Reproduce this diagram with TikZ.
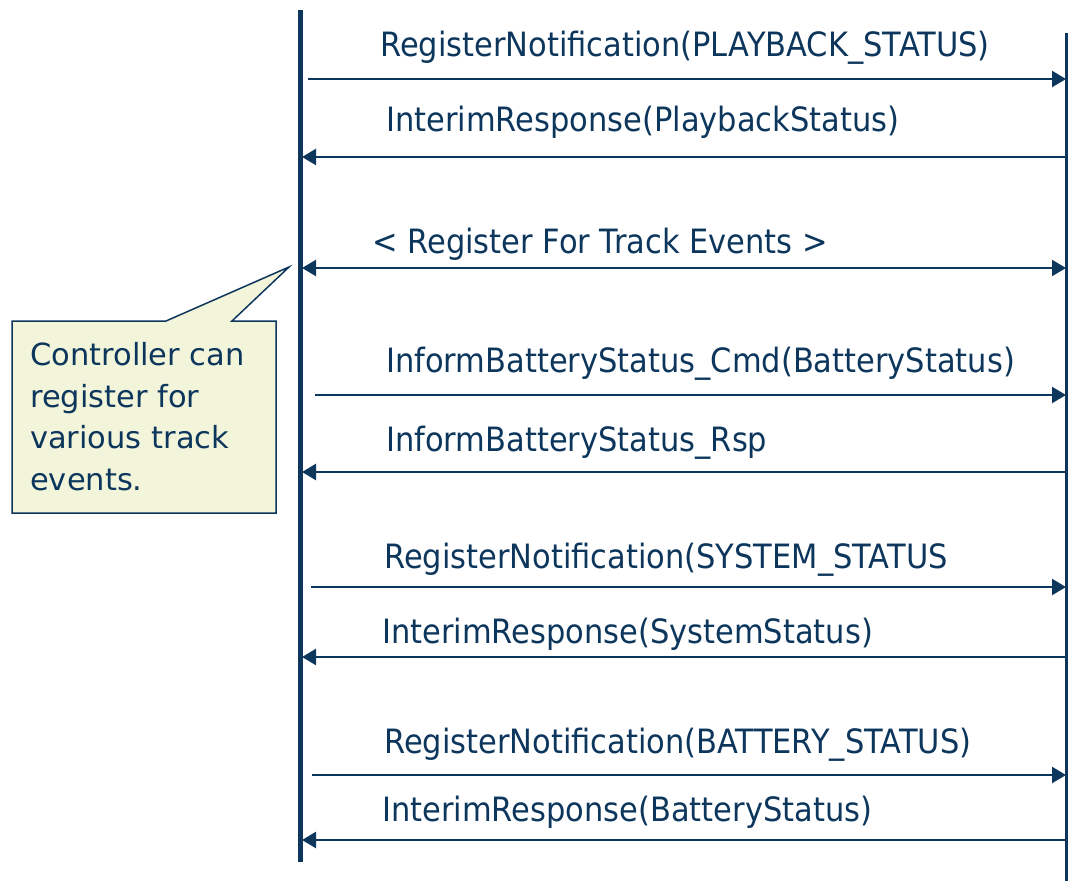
\documentclass[tikz,border=0pt]{standalone}
\usepackage{fontspec}
\setmainfont[FakeStretch=0.91]{DejaVu Sans}
\newfontfamily\calloutfont[FakeStretch=1.0]{DejaVu Sans}
\usetikzlibrary{arrows.meta}
\definecolor{navy}{HTML}{0D365C}
\definecolor{notefill}{HTML}{F3F5DB}
\begin{document}
\begin{tikzpicture}[x=1pt,y=-1pt,
  msg/.style={draw=navy,line width=2.3pt},
  tipstyle/.style={-{Triangle[length=14pt,width=16pt]}},
  lbl/.style={anchor=base west,inner sep=0pt,text=navy,font=\fontsize{33.5}{40}\selectfont},
  lifeL/.style={draw=navy,line width=5pt},
  lifeR/.style={draw=navy,line width=3pt}]
\useasboundingbox (0,0) rectangle (1068,881);
% lifelines
\coordinate (ltop) at (300,10);
\coordinate (lbot) at (300,862);
\coordinate (rtop) at (1066,33);
\coordinate (rbot) at (1066,881);
\draw[lifeL] (ltop) -- (lbot);
\draw[lifeR] (rtop) -- (rbot);
% endpoints
\coordinate (a1s) at (308,79);  \coordinate (a1e) at (1066,79);
\coordinate (a2s) at (1065,157); \coordinate (a2e) at (302,157);
\coordinate (a3s) at (302,268); \coordinate (a3e) at (1066,268);
\coordinate (a4s) at (315,395); \coordinate (a4e) at (1066,395);
\coordinate (a5s) at (1065,472); \coordinate (a5e) at (302,472);
\coordinate (a6s) at (311,587); \coordinate (a6e) at (1066,587);
\coordinate (a7s) at (1065,657); \coordinate (a7e) at (302,657);
\coordinate (a8s) at (312,775); \coordinate (a8e) at (1066,775);
\coordinate (a9s) at (1065,840); \coordinate (a9e) at (302,840);
\draw[msg,tipstyle] (a1s) -- (a1e);
\draw[msg,tipstyle] (a2s) -- (a2e);
\draw[msg,{Triangle[length=14pt,width=16pt]}-{Triangle[length=14pt,width=16pt]}] (a3s) -- (a3e);
\draw[msg,tipstyle] (a4s) -- (a4e);
\draw[msg,tipstyle] (a5s) -- (a5e);
\draw[msg,tipstyle] (a6s) -- (a6e);
\draw[msg,tipstyle] (a7s) -- (a7e);
\draw[msg,tipstyle] (a8s) -- (a8e);
\draw[msg,tipstyle] (a9s) -- (a9e);
% labels
\node[lbl] (t1) at (380,56) {RegisterNotification(PLAYBACK\_STATUS)};
\node[lbl] (t2) at (386,131) {InterimResponse(PlaybackStatus)};
\node[lbl] (t3) at (372,253) {< Register For Track Events >};
\node[lbl] (t4) at (386,372) {InformBatteryStatus\_Cmd(BatteryStatus)};
\node[lbl] (t5) at (386,451) {InformBatteryStatus\_Rsp};
\node[lbl] (t6) at (384,568) {RegisterNotification(SYSTEM\_STATUS};
\node[lbl] (t7) at (382,643) {InterimResponse(SystemStatus)};
\node[lbl] (t8) at (384,753) {RegisterNotification(BATTERY\_STATUS)};
\node[lbl] (t9) at (382,821) {InterimResponse(BatteryStatus)};
% callout
\draw[draw=navy,fill=notefill,line width=1.5pt,line join=miter]
  (12,321) -- (166,321) -- (289,267) -- (232,321) -- (276,321) -- (276,513) -- (12,513) -- cycle;
\node[anchor=base west,inner sep=0pt,text=navy,align=left,
  font=\calloutfont\fontsize{30.5}{41.5}\selectfont] (note) at (30,490)
  {Controller can\\register for\\various track\\events.};
\end{tikzpicture}
\end{document}
